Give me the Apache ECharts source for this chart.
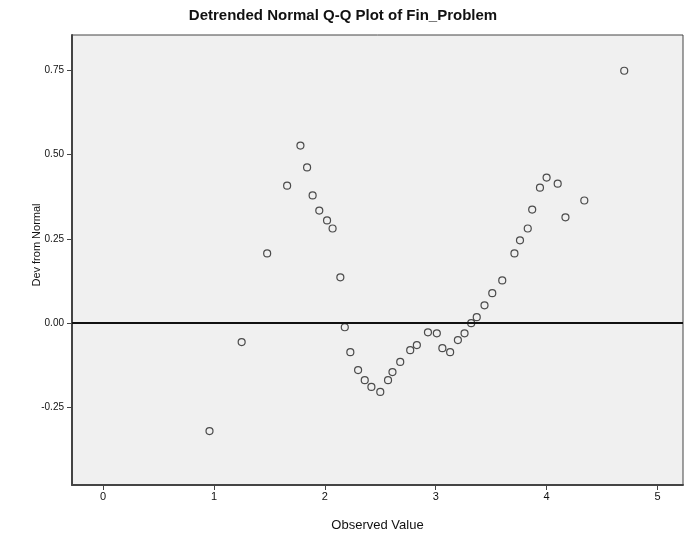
<!DOCTYPE html>
<html>
<head>
<meta charset="utf-8">
<script src="https://cdn.jsdelivr.net/npm/echarts@6/dist/echarts.min.js"></script>
<style>
  html, body { margin: 0; padding: 0; background: #ffffff; }
  #chart { width: 686px; height: 540px; }
</style>
</head>
<body>
<div id="chart"></div>
<script>
// Observed values and their deviation from the normal line
const observedValues = [
  0.96, 1.25, 1.48, 1.66, 1.78, 1.84, 1.89, 1.95, 2.02, 2.07,
  2.14, 2.18, 2.23, 2.30, 2.36, 2.42, 2.50, 2.57, 2.61, 2.68,
  2.77, 2.83, 2.93, 3.01, 3.06, 3.13, 3.20, 3.26, 3.32, 3.37,
  3.44, 3.51, 3.60, 3.71, 3.76, 3.83, 3.87, 3.94, 4.00, 4.10,
  4.17, 4.34, 4.70
];
const devFromNormal = [
  -0.320, -0.056, 0.207, 0.408, 0.527, 0.462, 0.379, 0.334, 0.305, 0.281,
  0.136, -0.012, -0.086, -0.139, -0.169, -0.189, -0.204, -0.169, -0.145, -0.115,
  -0.080, -0.065, -0.027, -0.030, -0.074, -0.086, -0.050, -0.030, 0.000, 0.018,
  0.053, 0.089, 0.127, 0.207, 0.246, 0.281, 0.337, 0.402, 0.432, 0.414,
  0.314, 0.364, 0.749
];
const xTicks = [0, 1, 2, 3, 4, 5];
const yTicks = [-0.25, 0, 0.25, 0.5, 0.75];

const points = observedValues.map((v, i) => [v, devFromNormal[i]]);

const chart = echarts.init(document.getElementById('chart'), null, { renderer: 'canvas' });
chart.setOption({
  animation: false,
  backgroundColor: '#ffffff',
  title: {
    text: 'Detrended Normal Q-Q Plot of Fin_Problem',
    left: 'center',
    top: 3,
    textStyle: { fontFamily: 'Liberation Sans', fontSize: 15, fontWeight: 'bold', color: '#111' }
  },
  grid: {
    left: 72, right: 3, top: 35, bottom: 55,
    show: true,
    backgroundColor: '#f0f0f0',
    borderColor: '#444',
    borderWidth: 1
  },
  xAxis: {
    type: 'value',
    min: -0.28,
    max: 5.23,
    name: 'Observed Value',
    nameLocation: 'middle',
    nameGap: 34,
    nameMoveOverlap: false,
    nameTextStyle: { fontFamily: 'Liberation Sans', fontSize: 13, color: '#111' },
    axisLine: { show: true, onZero: false, lineStyle: { color: '#444', width: 2 } },
    axisTick: { show: true, customValues: xTicks, length: 5, lineStyle: { color: '#444' } },
    axisLabel: {
      customValues: xTicks,
      fontFamily: 'Liberation Sans', fontSize: 11, color: '#111', margin: 6,
      formatter: v => String(v)
    },
    splitLine: { show: false }
  },
  yAxis: {
    type: 'value',
    min: -0.48,
    max: 0.855,
    name: 'Dev from Normal',
    nameLocation: 'middle',
    nameGap: 30,
    nameRotate: 90,
    nameMoveOverlap: false,
    nameTextStyle: { fontFamily: 'Liberation Sans', fontSize: 11, color: '#111', padding: [0, 0, 0, 30] },
    axisLine: { show: true, onZero: false, lineStyle: { color: '#444', width: 2 } },
    axisTick: { show: true, customValues: yTicks, length: 5, lineStyle: { color: '#444' } },
    axisLabel: {
      customValues: yTicks,
      fontFamily: 'Liberation Sans', fontSize: 10, color: '#111', margin: 8,
      formatter: v => v.toFixed(2)
    },
    splitLine: { show: false }
  },
  series: [{
    type: 'scatter',
    data: points,
    symbol: 'circle',
    symbolSize: 7,
    itemStyle: { color: 'rgba(0,0,0,0)', borderColor: '#222', borderWidth: 1.2 },
    markLine: {
      silent: true,
      symbol: 'none',
      label: { show: false },
      lineStyle: { color: '#111', width: 2, type: 'solid' },
      data: [{ yAxis: 0 }]
    }
  }]
});
</script>
</body>
</html>
